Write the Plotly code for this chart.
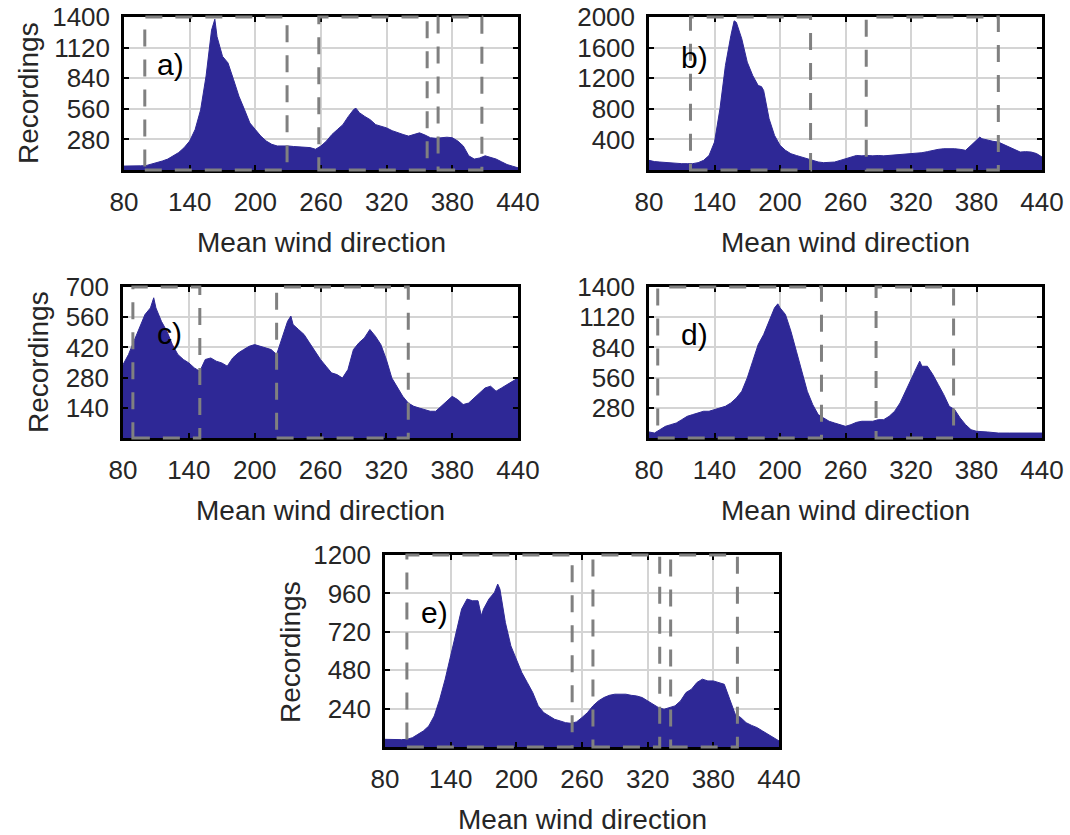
import plotly.graph_objects as go

# ---------------- data ----------------
dir_a = [80, 85, 90, 95, 100, 105, 110, 115, 120, 125, 130, 135, 140, 145, 150, 155, 160, 163, 165, 170,
         175, 180, 185, 190, 195, 200, 205, 210, 215, 220, 225, 230, 235, 240, 245, 250, 255, 260, 265, 270,
         275, 280, 285, 290, 292, 295, 300, 305, 310, 315, 320, 325, 330, 335, 340, 345, 350, 355, 360, 365,
         370, 375, 380, 385, 390, 395, 400, 405, 410, 415, 420, 425, 430, 435, 440]
rec_a = [36, 35, 35, 38, 40, 52, 67, 82, 100, 128, 160, 205, 265, 370, 550, 860, 1280, 1380, 1220, 1040,
         980, 830, 675, 555, 430, 370, 310, 265, 235, 220, 222, 220, 215, 213, 210, 205, 190, 220, 265, 325,
         370, 415, 490, 555, 565, 525, 490, 460, 415, 400, 385, 360, 340, 325, 310, 325, 340, 320, 295, 290,
         295, 300, 295, 265, 220, 130, 100, 110, 130, 115, 100, 75, 50, 35, 20]

dir_b = [80, 85, 90, 95, 100, 105, 110, 115, 120, 125, 130, 135, 140, 145, 150, 155, 158, 160, 165, 170,
         175, 180, 183, 185, 190, 195, 200, 205, 210, 215, 220, 225, 230, 235, 240, 245, 250, 255, 260, 265,
         270, 275, 280, 285, 290, 295, 300, 305, 310, 315, 320, 325, 330, 335, 340, 345, 350, 355, 360, 365,
         370, 375, 380, 383, 385, 390, 395, 400, 405, 410, 415, 420, 425, 430, 435, 440]
rec_b = [126, 110, 104, 98, 91, 88, 83, 83, 83, 96, 126, 190, 365, 800, 1365, 1757, 1950, 1930, 1714, 1410,
         1235, 1105, 1090, 1040, 670, 452, 322, 257, 213, 190, 170, 150, 126, 105, 96, 96, 104, 125, 148, 170,
         190, 185, 190, 185, 190, 185, 190, 195, 200, 205, 213, 220, 226, 240, 257, 270, 278, 280, 278, 270,
         257, 322, 387, 430, 409, 387, 375, 365, 335, 300, 265, 235, 240, 235, 215, 170]

dir_c = [80, 85, 90, 95, 100, 105, 108, 110, 115, 120, 125, 130, 135, 140, 145, 150, 155, 160, 165, 170,
         175, 180, 185, 190, 195, 200, 205, 210, 215, 220, 225, 230, 233, 235, 240, 245, 250, 255, 260, 265,
         270, 275, 280, 285, 290, 295, 300, 305, 310, 315, 320, 325, 330, 335, 340, 345, 350, 355, 360, 365,
         370, 375, 380, 385, 390, 395, 400, 405, 410, 415, 420, 425, 430, 435, 440]
rec_c = [340, 387, 449, 510, 572, 603, 650, 603, 541, 495, 433, 387, 364, 348, 325, 309, 364, 371, 356, 348,
         333, 371, 394, 410, 425, 433, 425, 418, 410, 387, 464, 541, 565, 526, 503, 480, 441, 402, 364, 333,
         302, 294, 278, 317, 410, 441, 464, 503, 472, 433, 364, 278, 232, 193, 162, 147, 139, 131, 124, 124,
         147, 170, 193, 178, 155, 162, 186, 209, 232, 240, 217, 232, 248, 263, 278]

dir_d = [80, 85, 90, 95, 100, 105, 110, 115, 120, 125, 130, 135, 140, 145, 150, 155, 160, 165, 170, 175,
         180, 185, 190, 195, 198, 200, 205, 210, 215, 220, 225, 230, 235, 240, 245, 250, 255, 260, 265, 270,
         275, 280, 285, 290, 295, 300, 305, 310, 315, 320, 325, 328, 330, 335, 340, 345, 350, 355, 360, 365,
         370, 375, 380, 390, 400, 410, 420, 430, 440]
rec_d = [56, 46, 77, 108, 124, 139, 170, 201, 217, 232, 248, 248, 263, 278, 294, 325, 371, 433, 557, 712,
         866, 959, 1083, 1207, 1244, 1207, 1145, 990, 804, 619, 433, 309, 217, 186, 155, 139, 124, 108, 124, 145,
         155, 155, 155, 170, 170, 201, 248, 325, 433, 557, 650, 712, 665, 665, 588, 495, 402, 294, 263, 186,
         124, 77, 62, 56, 46, 46, 46, 40, 46]

dir_e = [80, 85, 90, 95, 100, 105, 110, 115, 120, 125, 130, 135, 140, 145, 150, 155, 160, 165, 168, 170,
         175, 180, 183, 185, 190, 195, 200, 205, 210, 215, 220, 225, 230, 235, 240, 245, 250, 255, 260, 265,
         270, 275, 280, 285, 290, 295, 300, 305, 310, 315, 320, 325, 330, 335, 340, 345, 350, 355, 360, 365,
         370, 375, 380, 385, 390, 395, 400, 405, 410, 415, 420, 425, 430, 435, 440]
rec_e = [48, 46, 44, 46, 48, 58, 79, 100, 131, 194, 298, 424, 570, 716, 862, 925, 914, 914, 820, 862,
         925, 966, 1018, 987, 778, 632, 549, 465, 403, 340, 257, 215, 194, 173, 163, 152, 148, 157, 184, 215,
         257, 288, 309, 323, 330, 330, 330, 323, 319, 309, 288, 267, 246, 236, 246, 257, 288, 340, 361, 403,
         424, 413, 413, 403, 392, 298, 205, 184, 152, 135, 121, 100, 79, 58, 38]

panel_labels = ["a)", "b)", "c)", "d)", "e)"]
x_ticks = [80, 140, 200, 260, 320, 380, 440]
y_ticks_a = [280, 560, 840, 1120, 1400]
y_ticks_b = [400, 800, 1200, 1600, 2000]
y_ticks_c = [140, 280, 420, 560, 700]
y_ticks_d = [280, 560, 840, 1120, 1400]
y_ticks_e = [240, 480, 720, 960, 1200]

# cluster boundaries (dashed rectangles), in degrees
clusters_a = [(99, 229), (258, 357), (367, 407)]
clusters_b = [(118, 228), (279, 400)]
clusters_c = [(89, 150), (220, 340)]
clusters_d = [(88, 238), (288, 359)]
clusters_e = [(100, 251), (270, 331), (341, 402)]

x_title = "Mean wind direction"
y_title = "Recordings"

# ---------------- layout geometry (pixels) ----------------
W, H = 1070, 835
FILL = "#2E2896"
FONT = "Liberation Sans, Arial, sans-serif"
TXT = "#262626"

panels = [
    dict(d=dir_a, r=rec_a, yt=y_ticks_a, cl=clusters_a, box=(124, 518, 17, 170), lab=(170, 64), ytitle=(28, 93)),
    dict(d=dir_b, r=rec_b, yt=y_ticks_b, cl=clusters_b, box=(649, 1042, 17, 170), lab=(694, 57), ytitle=None),
    dict(d=dir_c, r=rec_c, yt=y_ticks_c, cl=clusters_c, box=(123, 518, 287, 438), lab=(169, 333), ytitle=(38, 362)),
    dict(d=dir_d, r=rec_d, yt=y_ticks_d, cl=clusters_d, box=(649, 1042, 287, 438), lab=(694, 334), ytitle=None),
    dict(d=dir_e, r=rec_e, yt=y_ticks_e, cl=clusters_e, box=(385, 779, 555, 747), lab=(434, 612), ytitle=(290, 652)),
]

fig = go.Figure()
layout = dict(
    width=W, height=H, margin=dict(l=0, r=0, t=0, b=0, autoexpand=False),
    paper_bgcolor="white", plot_bgcolor="white", showlegend=False,
    font=dict(family=FONT, size=26, color=TXT),
)
shapes = []
annotations = []

for i, p in enumerate(panels):
    n = "" if i == 0 else str(i + 1)
    xa, ya = "x" + n, "y" + n
    x0, x1, y0, y1 = p["box"]
    fig.add_trace(go.Scatter(
        x=p["d"], y=p["r"], xaxis=xa, yaxis=ya, mode="lines",
        line=dict(color=FILL, width=1), fill="tozeroy", fillcolor=FILL,
        hoverinfo="skip",
    ))
    common = dict(
        showline=True, linecolor="black", linewidth=2.5, mirror="ticks",
        ticks="inside", ticklen=5, tickwidth=2, tickcolor="black",
        showgrid=True, gridcolor="#d4d4d4", gridwidth=2, zeroline=False,
        tickfont=dict(family=FONT, size=26, color=TXT), automargin=False,
    )
    layout["xaxis" + n] = dict(
        common, domain=[x0 / W, x1 / W], anchor=ya, range=[80, 440],
        tickvals=x_ticks, ticklabelstandoff=7,
    )
    layout["yaxis" + n] = dict(
        common, domain=[1 - y1 / H, 1 - y0 / H], anchor=xa, range=[0, p["yt"][-1]],
        tickvals=p["yt"], ticklabelstandoff=6,
    )
    for (c0, c1) in p["cl"]:
        shapes.append(dict(
            type="rect", xref=xa, yref=ya + " domain", x0=c0, x1=c1, y0=0, y1=1,
            line=dict(color="#808080", width=3, dash="17px,13px"), layer="above",
        ))
    annotations.append(dict(
        text=panel_labels[i], xref="paper", yref="paper",
        x=p["lab"][0] / W, y=1 - p["lab"][1] / H, showarrow=False,
        xanchor="center", yanchor="middle", font=dict(family=FONT, size=30, color="black"),
    ))
    annotations.append(dict(
        text=x_title, xref="paper", yref="paper",
        x=(x0 + x1) / 2 / W, y=1 - (y1 + 72) / H, showarrow=False,
        xanchor="center", yanchor="middle", font=dict(family=FONT, size=28, color=TXT),
    ))
    if p["ytitle"] is not None:
        annotations.append(dict(
            text=y_title, xref="paper", yref="paper", textangle=-90,
            x=p["ytitle"][0] / W, y=1 - p["ytitle"][1] / H, showarrow=False,
            xanchor="center", yanchor="middle", font=dict(family=FONT, size=28, color=TXT),
        ))

layout["shapes"] = shapes
layout["annotations"] = annotations
fig.update_layout(**layout)
fig.write_html("out.html")
